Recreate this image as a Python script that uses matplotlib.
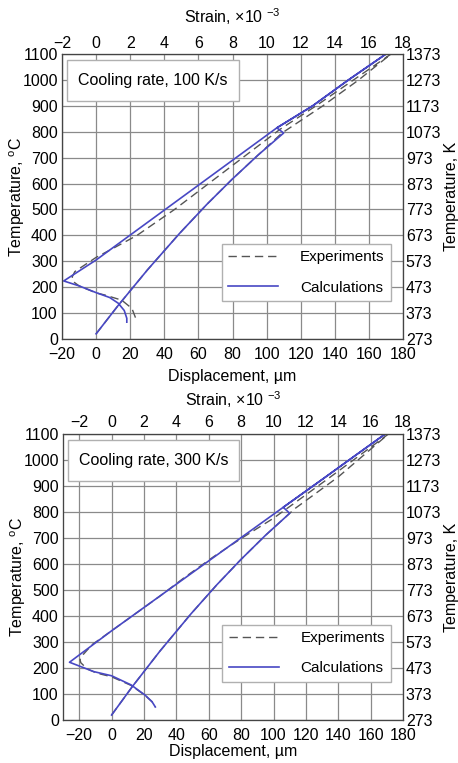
import numpy as np
import matplotlib.pyplot as plt
from matplotlib.patches import Rectangle

plt.rcParams["font.family"] = ["Liberation Sans", "DejaVu Sans"]
plt.rcParams["mathtext.fontset"] = "custom"
plt.rcParams["mathtext.rm"] = "Liberation Sans"
plt.rcParams["mathtext.it"] = "Liberation Sans:italic"
plt.rcParams["font.size"] = 11.5

# -- data: (displacement um, temperature C) --
# cooling rate 100 K/s
calc100_d = [0, 13, 30, 49, 65, 80, 95, 110, 106, 127, 148, 170,
             148, 127, 106, 0, -19,
             -10, 0, 8, 13, 16.5, 18, 18]
calc100_T = [20, 130, 266, 408, 520, 618, 710, 795, 815, 900, 1000, 1100,
             1000, 900, 815, 305, 224,
             205, 179, 160, 138, 110, 80, 65]
exp100_d = [0, 13, 30, 49, 65, 80, 95, 109, 112, 133, 154, 173,
            151, 129, 108, 86, 66, 46, 24, 10, 0, -8, -12.5, -14, -13.5,
            -10, 0, 5, 15, 21, 24]
exp100_T = [20, 130, 266, 408, 520, 618, 710, 795, 808, 900, 1000, 1100,
            1000, 900, 810, 700, 600, 500, 400, 350, 315, 280, 260, 240, 222,
            205, 178, 170, 150, 118, 67]

# cooling rate 300 K/s
calc300_d = [0, 13, 30, 49, 65, 80, 95, 110, 106, 130, 150, 169,
             150, 130, 106, 0, -26,
             -11, 0, 12, 20.6, 25, 27]
calc300_T = [19, 130, 266, 408, 520, 618, 710, 795, 818, 925, 1015, 1100,
             1015, 925, 818, 343, 222,
             186, 170, 135, 96, 70, 50]
exp300_d = [0, 13, 30, 49, 65, 80, 95, 110, 113, 140, 171,
            152, 133, 112, 100, 80, 63, 45, 30, 0, -12, -17.5, -19.5, -19,
            -15, -9, 0, 12, 20.6, 25, 27]
exp300_T = [19, 130, 266, 408, 520, 618, 710, 795, 812, 935, 1100,
            1012, 925, 830, 776, 698, 628, 548, 477, 343, 290, 252, 232, 220,
            196, 180, 166, 133, 95, 70, 50]

panels = [
    dict(calc=(calc100_d, calc100_T), exp=(exp100_d, exp100_T),
         note="Cooling rate, 100 K/s", xlim=(-20, 180),
         pos=[0.1354, 0.5557, 0.7445, 0.3735],
         top_pad=2.5, top_lpad=9, bot_lpad=5),
    dict(calc=(calc300_d, calc300_T), exp=(exp300_d, exp300_T),
         note="Cooling rate, 300 K/s", xlim=(-30, 180),
         pos=[0.1376, 0.0564, 0.7424, 0.3748],
         top_pad=3, top_lpad=6, bot_lpad=1),
]

blue = "#4848c4"
gray = "#555555"
grid_c = "#8a8a8a"
edge = "#444444"

fig = plt.figure(figsize=(4.58, 7.63), dpi=100)

for p in panels:
    ax = fig.add_axes(p["pos"])
    ax.plot(*p["exp"], color=gray, lw=1.0, ls=(0, (6, 3.5)), label="Experiments")
    ax.plot(*p["calc"], color=blue, lw=1.2, label="Calculations")

    ax.set_xlim(*p["xlim"])
    ax.set_ylim(0, 1100)
    ax.set_xticks(np.arange(-20, 181, 20))
    ax.set_yticks(np.arange(0, 1101, 100))
    ax.grid(True, color=grid_c, lw=0.9)
    ax.set_axisbelow(True)
    ax.tick_params(axis="x", length=0, pad=5.5)
    ax.tick_params(axis="y", length=0, pad=3)
    for s in ax.spines.values():
        s.set_color(edge)

    ax.set_xlabel("Displacement, µm", labelpad=p["bot_lpad"])
    ax.set_ylabel("Temperature, $^{\\rm o}$C", labelpad=-3)

    # strain axis on top (displacement / 10)
    axt = ax.twiny()
    axt.set_xlim(p["xlim"][0] / 10, p["xlim"][1] / 10)
    axt.set_xticks(np.arange(-2, 19, 2))
    axt.tick_params(length=0, pad=p["top_pad"])
    axt.set_xlabel("Strain, $\\times$10 $^{-3}$", labelpad=p["top_lpad"])

    # kelvin axis on the right
    axr = ax.twinx()
    axr.set_ylim(273, 1373)
    axr.set_yticks(np.arange(273, 1374, 100))
    axr.tick_params(length=0, pad=2)
    axr.set_ylabel("Temperature, K", labelpad=2)
    for a in (axt, axr):
        for s in a.spines.values():
            s.set_color(edge)

    # note box
    ax.add_patch(Rectangle((0.014, 0.835), 0.505, 0.145, transform=ax.transAxes,
                           facecolor="white", edgecolor="#b0b0b0", lw=1.0, zorder=3))
    ax.text(0.266, 0.907, p["note"], transform=ax.transAxes, ha="center",
            va="center", zorder=4)

    leg = ax.legend(loc="upper left", bbox_to_anchor=(0.469, 0.332),
                    borderaxespad=0, fontsize=11, handlelength=3.27,
                    handletextpad=1.44, labelspacing=1.07, borderpad=0.4,
                    fancybox=False, framealpha=1, edgecolor="#b0b0b0")
    leg.get_frame().set_linewidth(1.0)

fig.savefig("out.png", dpi=100)
